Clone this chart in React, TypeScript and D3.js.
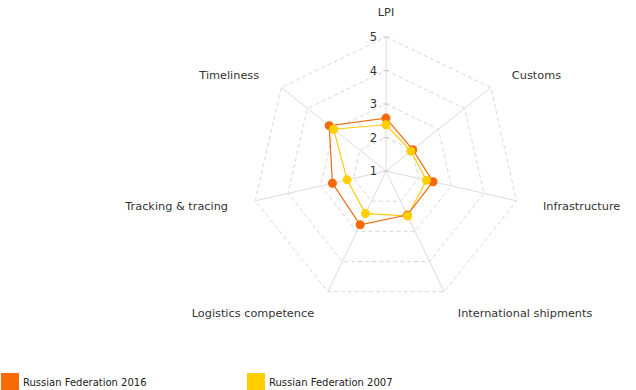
import React, { useRef, useEffect } from "react";
import * as d3 from "d3";

const axes = [
  "LPI",
  "Customs",
  "Infrastructure",
  "International shipments",
  "Logistics competence",
  "Tracking & tracing",
  "Timeliness",
];
const ticks = [1, 2, 3, 4, 5];
const russia2016 = [2.58, 2.02, 2.44, 2.46, 2.78, 2.64, 3.17];
const russia2007 = [2.38, 1.95, 2.24, 2.49, 2.41, 2.19, 3.0];
const seriesNames = ["Russian Federation 2016", "Russian Federation 2007"];
const seriesColors = ["#f76a06", "#ffcf00"];
const lineColors = ["#ec6a10", "#ffcc10"];

const W = 636;
const H = 390;
const cx = 386;
const cy = 171;
const R = 134;
const FONT = "DejaVu Sans, Verdana, sans-serif";

const App = () => {
  const ref = useRef<SVGSVGElement>(null);

  useEffect(() => {
    const svg = d3.select(ref.current);
    svg.selectAll("*").remove();

    const r = d3.scaleLinear().domain([1, 5]).range([0, R]);
    const angle = d3
      .scalePoint<string>()
      .domain(axes)
      .range([0, (2 * Math.PI * (axes.length - 1)) / axes.length]);

    const g = svg.append("g").attr("transform", `translate(${cx},${cy})`);

    // dashed grid polygons
    const gridLine = d3
      .lineRadial<string>()
      .angle((d) => angle(d)!)
      .curve(d3.curveLinearClosed);
    ticks.slice(1).forEach((t) => {
      g.append("path")
        .attr("d", gridLine.radius(() => r(t))(axes))
        .attr("fill", "none")
        .attr("stroke", "#d8d8d8")
        .attr("stroke-width", 1)
        .attr("stroke-dasharray", "4,3");
    });

    // axis spokes
    axes.forEach((a) => {
      const ang = angle(a)!;
      g.append("line")
        .attr("x1", 0)
        .attr("y1", 0)
        .attr("x2", Math.sin(ang) * R)
        .attr("y2", -Math.cos(ang) * R)
        .attr("stroke", "#dcdcdc")
        .attr("stroke-width", 1);
    });

    // tick labels
    ticks.forEach((t) => {
      g.append("line")
        .attr("x1", -3)
        .attr("x2", 3)
        .attr("y1", -r(t))
        .attr("y2", -r(t))
        .attr("stroke", "#cccccc");
      g.append("text")
        .attr("x", -9)
        .attr("y", -r(t))
        .attr("dy", "0.35em")
        .attr("text-anchor", "end")
        .attr("font-family", FONT)
        .attr("font-size", 11.5)
        .attr("fill", "#333")
        .text(t);
    });

    // axis labels
    axes.forEach((a) => {
      const ang = angle(a)!;
      const sx = Math.sin(ang);
      const cy2 = -Math.cos(ang);
      const anchor = Math.abs(sx) < 0.01 ? "middle" : sx > 0 ? "start" : "end";
      let x = sx * 161;
      if (sx < -0.01) x -= 1;
      if (cy2 > 0.5) x += sx > 0 ? 2 : -1;
      let y = cy2 * 156;
      if (cy2 < -0.9) y += -3;
      else if (cy2 < -0.3) y += 1;
      else if (cy2 > 0.5) y += 1;
      g.append("text")
        .attr("x", x)
        .attr("y", y)
        .attr("dy", "0.35em")
        .attr("text-anchor", anchor)
        .attr("font-family", FONT)
        .attr("font-size", 11.3)
        .attr("fill", "#333")
        .text(a);
    });

    // series
    const seriesLine = d3
      .lineRadial<number>()
      .angle((_, i) => angle(axes[i])!)
      .radius((v) => r(v))
      .curve(d3.curveLinearClosed);

    [russia2007, russia2016].forEach((data, k) => {
      const idx = k === 0 ? 1 : 0;
      g.append("path")
        .attr("d", seriesLine(data))
        .attr("fill", "none")
        .attr("stroke", lineColors[idx])
        .attr("stroke-width", 1.2);
    });
    [russia2016, russia2007].forEach((data, idx) => {
      g.selectAll(null)
        .data(data)
        .join("circle")
        .attr("cx", (v, i) => Math.sin(angle(axes[i])!) * r(v))
        .attr("cy", (v, i) => -Math.cos(angle(axes[i])!) * r(v))
        .attr("r", 4.5)
        .attr("fill", seriesColors[idx]);
    });

    // legend
    const legendX = [1, 247];
    seriesNames.forEach((name, i) => {
      svg
        .append("rect")
        .attr("x", legendX[i])
        .attr("y", 373)
        .attr("width", 18)
        .attr("height", 18)
        .attr("fill", seriesColors[i]);
      svg
        .append("text")
        .attr("x", legendX[i] + 22)
        .attr("y", 382)
        .attr("dy", "0.35em")
        .attr("font-family", FONT)
        .attr("font-size", 10)
        .attr("fill", "#222")
        .text(name);
    });
  }, []);

  return (
    <svg
      ref={ref}
      width={W}
      height={H}
      style={{ position: "absolute", left: 0, top: 0, background: "#fff" }}
    />
  );
};

export default App;
